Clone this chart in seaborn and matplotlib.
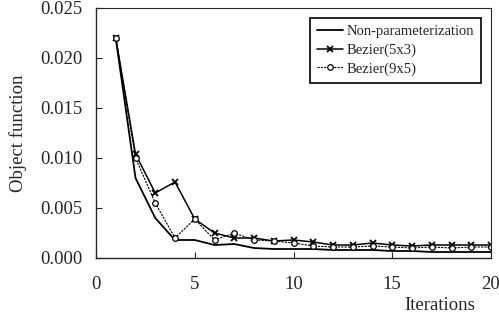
import numpy as np
import pandas as pd
import matplotlib
matplotlib.use('Agg')
import matplotlib.pyplot as plt
import seaborn as sns

# ── Data ─────────────────────────────────────────────────────────────────────
iterations = list(range(1, 21))
non_param = [0.0220, 0.0080, 0.0040, 0.0018, 0.0018, 0.0013, 0.0014, 0.0010, 0.0009, 0.0009,
             0.0009, 0.0008, 0.0008, 0.0008, 0.0007, 0.0007, 0.0006, 0.0006, 0.0006, 0.0006]
bezier_5x3 = [0.0220, 0.0104, 0.0065, 0.0076, 0.0039, 0.0025, 0.0020, 0.0020, 0.0017, 0.0018,
              0.0016, 0.0013, 0.0013, 0.0015, 0.0013, 0.0012, 0.0013, 0.0013, 0.0013, 0.0013]
bezier_9x5 = [0.0220, 0.0100, 0.0055, 0.0020, 0.0039, 0.0018, 0.0025, 0.0018, 0.0017, 0.0015,
              0.0012, 0.0011, 0.0011, 0.0012, 0.0011, 0.0010, 0.0011, 0.0010, 0.0011, 0.0011]
x_ticks = [0, 5, 10, 15, 20]
y_ticks = [0.000, 0.005, 0.010, 0.015, 0.020, 0.025]

sns.set_style('ticks')
plt.rcParams['font.family'] = ['Liberation Serif', 'DejaVu Serif']

df = pd.DataFrame({'it': iterations, 'np': non_param, 'b53': bezier_5x3, 'b95': bezier_9x5})

fig = plt.figure(figsize=(4.99, 3.22), dpi=100)
ax = fig.add_axes([96/499, 1 - 258/322, 395/499, 250/322])

sns.lineplot(data=df, x='it', y='np', ax=ax, color='black', linewidth=1.3,
             label='Non-parameterization')
sns.lineplot(data=df, x='it', y='b53', ax=ax, color='black', linewidth=1.1,
             marker='x', markersize=5, markeredgewidth=1.3, markeredgecolor='black',
             label='Bezier(5x3)')
sns.lineplot(data=df, x='it', y='b95', ax=ax, color='black', linewidth=0.8,
             linestyle=(0, (2, 1)), marker='o', markersize=4, markerfacecolor='white',
             markeredgecolor='black', markeredgewidth=0.9, label='Bezier(9x5)')

ax.set_xlim(0, 20)
ax.set_ylim(0, 0.025)
ax.set_xticks(x_ticks)
ax.set_yticks(y_ticks)
ax.set_yticklabels([f'{v:.3f}' for v in y_ticks])
ax.tick_params(axis='both', direction='in', labelsize=13.5, length=4, width=0.8)
ax.tick_params(axis='y', pad=10)
ax.tick_params(axis='x', pad=13)

ax.set_xlabel('')
ax.set_ylabel('Object function', fontsize=13.5, labelpad=9)
fig.text(440/499, 1 - 305/322, 'Iterations', ha='center', va='center', fontsize=13.5)

for s in ['left', 'bottom']:
    ax.spines[s].set_linewidth(1.0)
for s in ['top', 'right']:
    ax.spines[s].set_linewidth(0.8)
    ax.spines[s].set_linestyle((0, (1, 1)))

leg = ax.legend(loc='upper right', bbox_to_anchor=(385/395, 240/250), borderaxespad=0,
                fontsize=10.5, frameon=True, fancybox=False, edgecolor='black',
                framealpha=1, handlelength=1.8, handletextpad=0.2, borderpad=0.5,
                labelspacing=0.35)
leg.get_frame().set_linewidth(1.2)

fig.savefig('out.png', dpi=100)
